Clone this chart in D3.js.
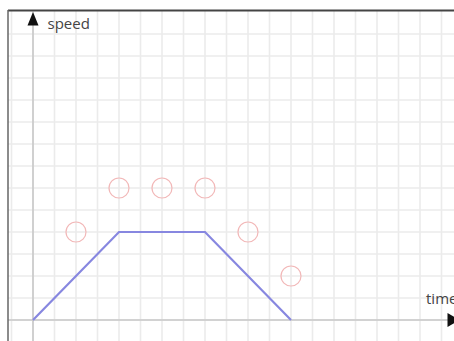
<!DOCTYPE html>
<html>
<head>
<meta charset="utf-8">
<script src="https://cdn.jsdelivr.net/npm/d3@7"></script>
<style>
  body { margin: 0; background: #fff; }
  svg { display: block; }
</style>
</head>
<body>
<div id="chart"></div>
<script>
// data (grid units)
const lineTimes = [0, 4, 8, 12];
const lineSpeeds = [0, 4, 4, 0];
const circleTimes = [2, 4, 6, 8, 10, 12];
const circleSpeeds = [4, 6, 6, 6, 4, 2];
const gridTimes = [-1, 0, 1, 2, 3, 4, 5, 6, 7, 8, 9, 10, 11, 12, 13, 14, 15, 16, 17, 18, 19];
const gridSpeeds = [-1, 0, 1, 2, 3, 4, 5, 6, 7, 8, 9, 10, 11, 12, 13];
const axisLabels = ['time', 'speed'];

const width = 454, height = 341;

const svg = d3.select('#chart')
  .append('svg')
  .attr('width', width)
  .attr('height', height);

const x = d3.scaleLinear().domain([0, 19]).range([33, 441.5]);
const y = d3.scaleLinear().domain([0, 13]).range([320, 34]);

const frameTop = 11, frameLeft = 8;

// grid
svg.append('g')
  .selectAll('line')
  .data(gridTimes)
  .enter()
  .append('line')
  .attr('x1', d => x(d)).attr('x2', d => x(d))
  .attr('y1', frameTop).attr('y2', height)
  .style('stroke', '#ebebeb')
  .style('stroke-width', 1.6);

svg.append('g')
  .selectAll('line')
  .data(gridSpeeds)
  .enter()
  .append('line')
  .attr('x1', frameLeft).attr('x2', width)
  .attr('y1', d => y(d)).attr('y2', d => y(d))
  .style('stroke', '#ebebeb')
  .style('stroke-width', 1.6);

// axes
svg.append('line')
  .attr('x1', x(0)).attr('x2', x(0))
  .attr('y1', frameTop + 10).attr('y2', height)
  .style('stroke', '#c8c8c8')
  .style('stroke-width', 1.6);

svg.append('line')
  .attr('x1', frameLeft).attr('x2', width - 6)
  .attr('y1', y(0)).attr('y2', y(0))
  .style('stroke', '#c8c8c8')
  .style('stroke-width', 1.6);

// frame
svg.append('line')
  .attr('x1', frameLeft).attr('x2', width)
  .attr('y1', 10.5).attr('y2', 10.5)
  .style('stroke', '#444')
  .style('stroke-width', 2);

svg.append('line')
  .attr('x1', frameLeft).attr('x2', frameLeft)
  .attr('y1', 10).attr('y2', height)
  .style('stroke', '#666')
  .style('stroke-width', 1.5);

// arrows
const ax = x(0);
svg.append('path')
  .attr('d', `M${ax},12 L${ax - 5.5},25.5 L${ax + 5.5},25.5 Z`)
  .style('fill', '#111');

const ay = y(0);
svg.append('path')
  .attr('d', `M447.5,${ay - 7} L460,${ay} L447.5,${ay + 7} Z`)
  .style('fill', '#111');

// axis labels
svg.append('text')
  .attr('x', 47.5)
  .attr('y', 29)
  .text(axisLabels[1])
  .style('font-family', 'Open Sans, sans-serif')
  .style('font-size', '15px')
  .style('fill', '#444');

svg.append('text')
  .attr('x', 426)
  .attr('y', 303.5)
  .text(axisLabels[0])
  .style('font-family', 'Open Sans, sans-serif')
  .style('font-size', '15px')
  .style('fill', '#444');

// speed profile
const line = d3.line()
  .x(d => x(d[0]))
  .y(d => y(d[1]));

svg.append('path')
  .datum(lineTimes.map((t, i) => [t, lineSpeeds[i]]))
  .attr('d', line)
  .style('fill', 'none')
  .style('stroke', '#8787e0')
  .style('stroke-width', 2.2);

// circles
svg.append('g')
  .selectAll('circle')
  .data(circleTimes.map((t, i) => [t, circleSpeeds[i]]))
  .enter()
  .append('circle')
  .attr('cx', d => x(d[0]))
  .attr('cy', d => y(d[1]))
  .attr('r', 10)
  .style('fill', 'none')
  .style('stroke', '#f2b8b8')
  .style('stroke-width', 1.2);
</script>
</body>
</html>
